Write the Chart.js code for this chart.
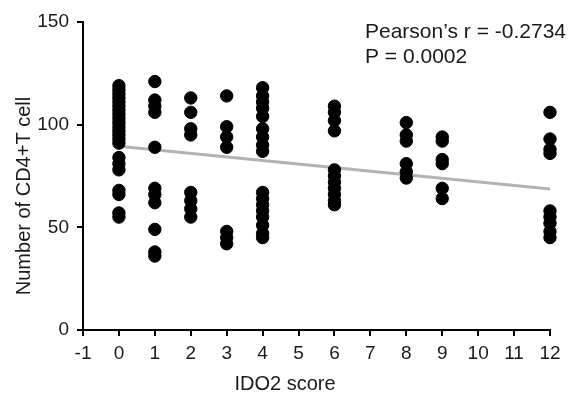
<!DOCTYPE html>
<html>
<head>
<meta charset="utf-8">
<script src="https://cdn.jsdelivr.net/npm/chart.js@4"></script>
<style>
  html, body { margin: 0; padding: 0; background: #fff; }
  #wrap { width: 570px; height: 397px; }
</style>
</head>
<body>
<div id="wrap"><canvas id="scatterChart"></canvas></div>
<script>
// IDO2 score groups and the CD4+T cell counts
const scores = [0, 1, 2, 3, 4, 6, 8, 9, 12];
const score0 = [119, 117, 115, 113, 111, 109, 107, 105, 103, 101, 99, 97, 95, 93, 91, 84, 81, 78, 68, 66, 57, 55];
const score1 = [121, 112, 109, 106, 89, 69, 66, 62, 49, 38, 36];
const score2 = [113, 106, 98, 95, 67, 63, 59, 55];
const score3 = [114, 99, 94, 89, 48, 45, 42];
const score4 = [118, 114, 111, 108, 104, 98, 94, 90, 87, 67, 64, 61, 58, 55, 51, 47, 45];
const score6 = [109, 106, 102, 97, 78, 75, 72, 69, 66, 63, 61];
const score8 = [101, 95, 92, 81, 77, 74];
const score9 = [94, 92, 83, 81, 69, 64];
const score12 = [106, 93, 88, 86, 58, 55, 52, 48, 45];
const cellCounts = [score0, score1, score2, score3, score4, score6, score8, score9, score12];

// regression line ends
const fitX = [0, 12];
const fitY = [89.5, 68.7];

const xTicks = [-1, 12];
const yTicks = [0, 150];

const points = [];
scores.forEach((s, i) => {
    cellCounts[i].forEach(v => points.push({ x: s, y: v }));
});

const textColor = '#1a1a1a';
const font = 'Arial, "Liberation Sans", sans-serif';

// axis titles and the Pearson note
const notes = {
    id: 'notes',
    afterDraw(chart) {
        const ctx = chart.ctx;
        ctx.save();
        ctx.fillStyle = textColor;
        ctx.font = '21px ' + font;
        ctx.textAlign = 'left';
        ctx.textBaseline = 'alphabetic';
        ctx.fillText('Pearson\u2019s r = -0.2734', 365, 38);
        ctx.fillText('P = 0.0002', 365, 63);

        ctx.font = '20px ' + font;
        ctx.textAlign = 'center';
        ctx.textBaseline = 'middle';
        ctx.fillText('IDO2 score', 285, 384);

        ctx.translate(24, 196);
        ctx.rotate(-Math.PI / 2);
        ctx.fillText('Number of CD4+T cell', 0, 0);
        ctx.restore();
    }
};

new Chart(document.getElementById('scatterChart'), {
    type: 'scatter',
    data: {
        datasets: [
            {
                type: 'line',
                data: fitX.map((x, i) => ({ x: x, y: fitY[i] })),
                borderColor: '#b3b3b3',
                borderWidth: 3,
                pointRadius: 0,
                order: 2
            },
            {
                data: points,
                backgroundColor: '#000',
                borderColor: '#000',
                pointRadius: 6.2,
                pointHoverRadius: 6.2,
                clip: false,
                order: 1
            }
        ]
    },
    options: {
        responsive: true,
        maintainAspectRatio: false,
        animation: false,
        layout: { padding: { top: 22, right: 20, left: 0, bottom: 0 } },
        plugins: {
            legend: { display: false },
            tooltip: { enabled: false }
        },
        scales: {
            x: {
                type: 'linear',
                min: xTicks[0],
                max: xTicks[1],
                afterFit(scale) { scale.height = 67; },
                border: { color: '#000', width: 2 },
                grid: { drawOnChartArea: false, drawTicks: true, tickLength: 6, color: '#000', lineWidth: 2 },
                ticks: { stepSize: 1, color: textColor, font: { size: 19, family: font }, padding: 6, maxRotation: 0 }
            },
            y: {
                min: yTicks[0],
                max: yTicks[1],
                afterFit(scale) { scale.width = 83; },
                border: { color: '#000', width: 2 },
                grid: { drawOnChartArea: false, drawTicks: true, tickLength: 6, color: '#000', lineWidth: 2 },
                ticks: { stepSize: 50, color: textColor, font: { size: 19, family: font }, padding: 8 }
            }
        }
    },
    plugins: [notes]
});
</script>
</body>
</html>
